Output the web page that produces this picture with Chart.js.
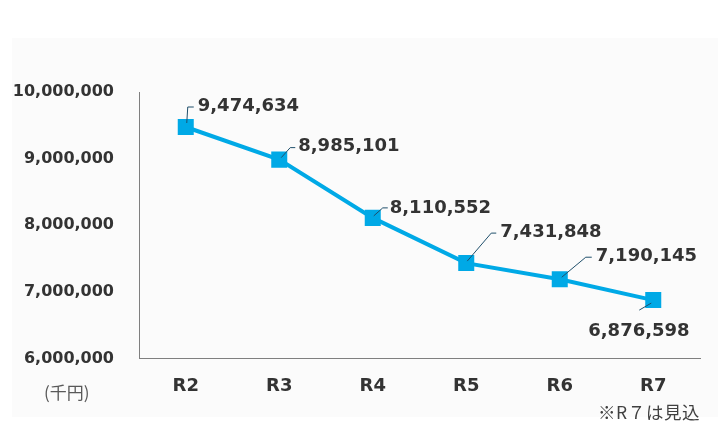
<!DOCTYPE html>
<html lang="ja">
<head>
<meta charset="utf-8">
<script src="https://cdn.jsdelivr.net/npm/chart.js@4.4.1/dist/chart.umd.min.js"></script>
<style>
  html, body { margin: 0; padding: 0; background: #fff; }
  #wrap { position: relative; width: 718px; height: 423px; overflow: hidden; }
  #panel { position: absolute; left: 12px; top: 38px; right: 0; bottom: 6px; background: #fbfbfb; }
  #chart { position: absolute; left: 0; top: 0; }
  .note { position: absolute; font-family: "Noto Sans CJK JP", "DejaVu Sans", sans-serif; line-height: 1; }
</style>
</head>
<body>
<div id="wrap">
  <div id="panel"></div>
  <canvas id="chart" width="718" height="423"></canvas>
  <div class="note" style="left:44px; top:383px; font-size:17px; color:#595959;">(千円)</div>
  <div class="note" style="left:598px; top:403px; font-size:17.5px; letter-spacing:0.6px; color:#404040;">※R７は見込</div>
</div>
<script>
// 年度
const years = ['R2', 'R3', 'R4', 'R5', 'R6', 'R7'];
// 金額（千円）
const amounts = [9474634, 8985101, 8110552, 7431848, 7190145, 6876598];
// y軸の目盛
const yMin = 6000000;
const yMax = 10000000;
const yStep = 1000000;

// ラベルの置き場所（点からのずれ）と引き出し線
const labelSpots = [
  { dx: 12, dy: -21, leader: [[1, -4], [2, -20], [8, -20]] },
  { dx: 19, dy: -13, leader: [[2, -2], [11, -12], [16, -12]] },
  { dx: 17, dy: -10, leader: [[1, -2], [10, -10], [15, -10]] },
  { dx: 34, dy: -31, leader: [[1, -2], [25, -30], [30, -30]] },
  { dx: 36, dy: -23, leader: [[2, -2], [26, -22], [32, -22]] },
  { dx: -65, dy: 31, leader: [[-2, 3], [-14, 10]] }
];

const fmt = v => v.toLocaleString('en-US');

const valueLabels = {
  id: 'valueLabels',
  afterDatasetsDraw(chart) {
    const ctx = chart.ctx;
    const pts = chart.getDatasetMeta(0).data;
    ctx.save();
    pts.forEach((p, i) => {
      const s = labelSpots[i];
      ctx.strokeStyle = '#1f4f6b';
      ctx.lineWidth = 1;
      ctx.beginPath();
      s.leader.forEach(([lx, ly], j) => {
        if (j === 0) ctx.moveTo(p.x + lx, p.y + ly);
        else ctx.lineTo(p.x + lx, p.y + ly);
      });
      ctx.stroke();
      ctx.fillStyle = '#333333';
      ctx.font = 'bold 18px "DejaVu Sans"';
      ctx.textAlign = 'left';
      ctx.textBaseline = 'middle';
      ctx.fillText(fmt(amounts[i]), p.x + s.dx, p.y + s.dy);
    });
    ctx.restore();
  }
};

new Chart(document.getElementById('chart'), {
  type: 'line',
  data: {
    labels: years,
    datasets: [{
      data: amounts,
      borderColor: '#00a9e6',
      backgroundColor: '#00a9e6',
      borderWidth: 4,
      pointStyle: 'rect',
      pointRadius: 8.5,
      pointHoverRadius: 8.5,
      fill: false,
      tension: 0
    }]
  },
  options: {
    responsive: false,
    animation: false,
    events: [],
    layout: { padding: { top: 92, right: 18, bottom: 0, left: 0 } },
    plugins: {
      legend: { display: false },
      tooltip: { enabled: false }
    },
    scales: {
      x: {
        offset: true,
        grid: { display: false, drawTicks: false },
        border: { display: true, color: '#7f7f7f', width: 1 },
        ticks: {
          padding: 17,
          color: '#333333',
          font: { family: 'DejaVu Sans', size: 18, weight: 'bold' }
        },
        afterFit(scale) { scale.height = 423 - 358.5; }
      },
      y: {
        min: yMin,
        max: yMax,
        grid: { display: false, drawTicks: false },
        border: { display: true, color: '#7f7f7f', width: 1 },
        ticks: {
          stepSize: yStep,
          padding: 25,
          color: '#333333',
          font: { family: 'DejaVu Sans', size: 16, weight: 'bold' },
          callback: v => fmt(v)
        },
        afterFit(scale) { scale.width = 139; }
      }
    }
  },
  plugins: [valueLabels]
});
</script>
</body>
</html>
